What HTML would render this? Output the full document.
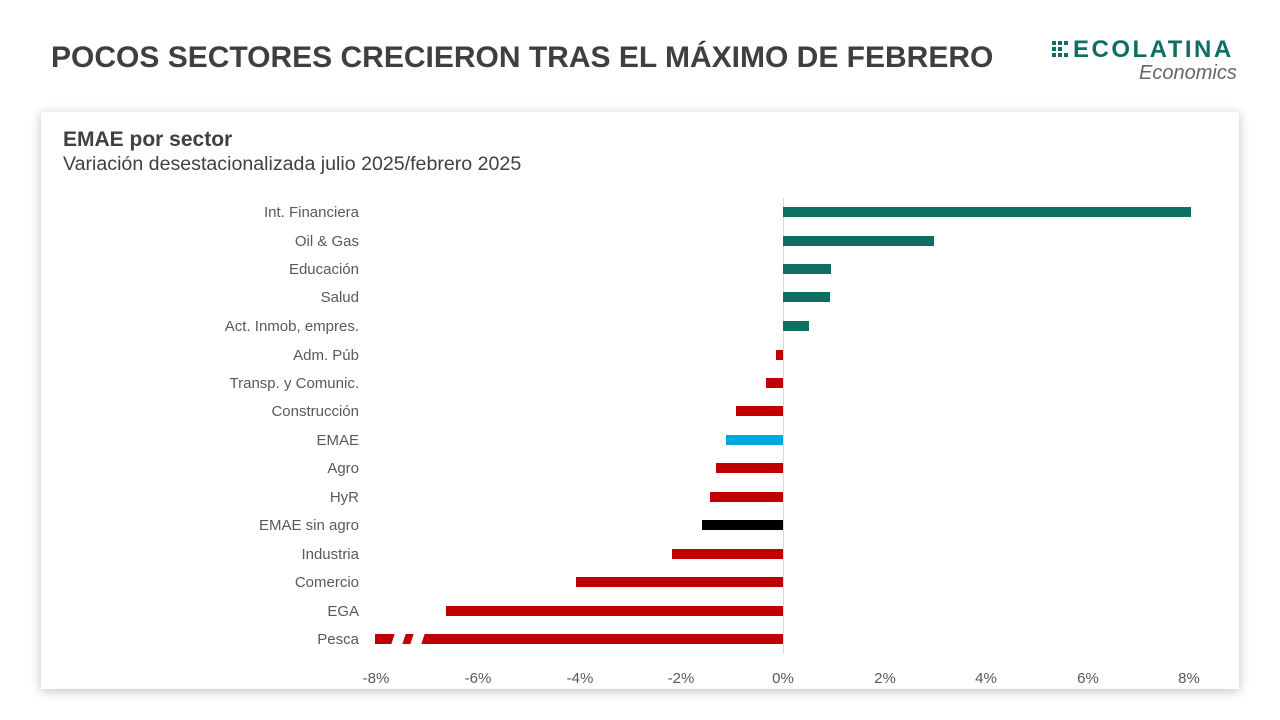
<!DOCTYPE html>
<html><head><meta charset="utf-8"><style>
body{margin:0;width:1280px;height:720px;background:#fff;font-family:"Liberation Sans",sans-serif;overflow:hidden;position:relative}
.t{position:absolute;left:51px;top:41px;font-size:30px;font-weight:bold;color:#3f3f3f;white-space:nowrap}
.card{position:absolute;left:41px;top:112px;width:1198px;height:577px;background:#fff;box-shadow:0 2px 10px rgba(0,0,0,0.25)}
</style></head><body>
<div class="t">POCOS SECTORES CRECIERON TRAS EL MÁXIMO DE FEBRERO</div>
<svg style="position:absolute;left:1052px;top:41px" width="20" height="18">
<g fill="#0e6e62"><rect x="0" y="0" width="4" height="4"/><rect x="6" y="0" width="4" height="4"/><rect x="12" y="0" width="4" height="4"/><rect x="0" y="6" width="4" height="4"/><rect x="6" y="6" width="4" height="4"/><rect x="0" y="12" width="4" height="4"/><rect x="6" y="12" width="4" height="4"/><rect x="12" y="12" width="4" height="4"/></g></svg>
<div style="position:absolute;left:1073px;top:36px;font-size:24px;font-weight:bold;color:#0e6e62;letter-spacing:2.5px">ECOLATINA</div>
<div style="position:absolute;left:1139px;top:62px;font-size:20px;font-style:italic;color:#666">Economics</div>
<div class="card"></div>
<div style="position:absolute;left:63px;top:128px;font-size:21px;font-weight:bold;color:#404040">EMAE por sector</div>
<div style="position:absolute;left:63px;top:153px;font-size:19.6px;color:#404040">Variación desestacionalizada julio 2025/febrero 2025</div>
<svg style="position:absolute;left:0;top:0" width="1280" height="720" font-family="Liberation Sans, sans-serif" font-size="15" fill="#595959">
<line x1="783.5" y1="198" x2="783.5" y2="654" stroke="#d9d9d9"/>
<g text-anchor="end">
<text x="359" y="217">Int. Financiera</text><text x="359" y="246">Oil &amp; Gas</text><text x="359" y="274">Educación</text><text x="359" y="302">Salud</text><text x="359" y="331">Act. Inmob, empres.</text><text x="359" y="360">Adm. Púb</text><text x="359" y="388">Transp. y Comunic.</text><text x="359" y="416">Construcción</text><text x="359" y="445">EMAE</text><text x="359" y="473">Agro</text><text x="359" y="502">HyR</text><text x="359" y="530">EMAE sin agro</text><text x="359" y="559">Industria</text><text x="359" y="587">Comercio</text><text x="359" y="616">EGA</text><text x="359" y="644">Pesca</text>
</g>
<g fill="#0e6e62">
<rect x="783" y="207" width="408" height="10"/><rect x="783" y="236" width="151" height="10"/><rect x="783" y="264" width="48" height="10"/><rect x="783" y="292" width="47" height="10"/><rect x="783" y="321" width="26" height="10"/>
</g>
<g fill="#c00000">
<rect x="776" y="350" width="7" height="10"/><rect x="766" y="378" width="17" height="10"/><rect x="736" y="406" width="47" height="10"/>
<rect x="716" y="463" width="67" height="10"/><rect x="710" y="492" width="73" height="10"/><rect x="672" y="549" width="111" height="10"/><rect x="576" y="577" width="207" height="10"/><rect x="446" y="606" width="337" height="10"/><rect x="375" y="634" width="408" height="10"/>
</g>
<rect x="726" y="435" width="57" height="10" fill="#00a8e0"/>
<rect x="702" y="520" width="81" height="10" fill="#000"/>
<polygon points="391,645 395,633 406,633 402,645" fill="#fff"/>
<polygon points="410,645 414,633 425,633 421,645" fill="#fff"/>
<g text-anchor="middle">
<text x="376" y="683">-8%</text><text x="478" y="683">-6%</text><text x="580" y="683">-4%</text><text x="681" y="683">-2%</text><text x="783" y="683">0%</text><text x="885" y="683">2%</text><text x="986" y="683">4%</text><text x="1088" y="683">6%</text><text x="1189" y="683">8%</text>
</g>
</svg>
</body></html>
